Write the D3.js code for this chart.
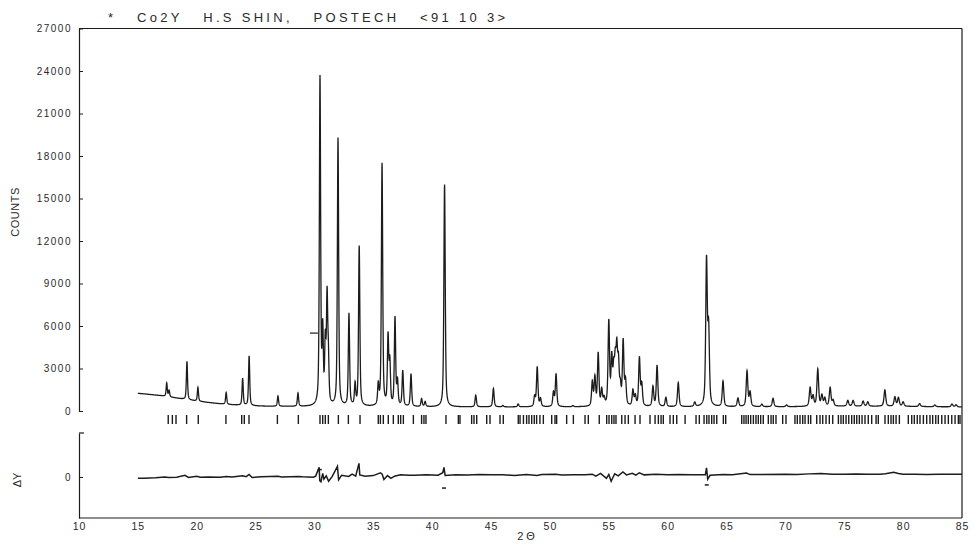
<!DOCTYPE html>
<html>
<head>
<meta charset="utf-8">
<script src="https://cdn.jsdelivr.net/npm/d3@7"></script>
<style>
  body{margin:0;background:#fff;}
  svg{display:block;}
  text{font-family:"Liberation Sans",Arial,sans-serif;fill:#2a2a2a;}
</style>
</head>
<body>
<div id="chart"></div>
<script>
const width=980, height=547;

// background of the observed pattern, [2theta, counts]
const bgPts=[[15,1250],[16,1170],[17,1080],[18,950],[19,820],[20,700],[21,600],[22,510],[23,440],[24,390],[25,360],[26,340],[28,320],[30,310],[40,290],[50,290],[60,290],[70,300],[75,340],[80,330],[85,280]];

// peaks, [2theta, counts above background]
const peaks=[
  [17.45,950],[17.65,450],[19.17,2700],[20.10,980],[22.50,830],[23.90,1900],[24.45,3500],
  [26.90,720],[28.60,930],[30.47,23100],[30.70,5000],[30.92,4200],[31.07,7300],[31.18,3000],
  [32.00,18900],[32.93,6500],[33.45,1500],[33.80,11300],[35.42,1400],[35.74,17100],
  [36.25,4800],[36.40,3000],[36.84,6200],[37.05,1700],[37.50,2500],[38.20,2300],
  [39.10,550],[39.40,350],[41.05,15700],[43.70,820],[45.20,1300],[46.00,100],[47.30,200],
  [48.70,700],[48.92,2800],[49.20,550],[50.30,1000],[50.52,2300],[51.95,80],
  [53.60,1700],[53.82,2000],[54.10,3700],[54.40,1100],[54.60,500],[55.00,5900],
  [55.25,3200],[55.42,2300],[55.55,2700],[55.68,3600],[55.82,2800],[55.98,1200],
  [56.22,4500],[56.42,1700],[57.05,1100],[57.25,700],[57.60,3400],[57.80,1500],
  [58.75,1400],[59.10,2900],[59.85,650],[60.90,1700],[62.30,300],[63.30,10200],
  [63.48,5200],[64.70,1800],[65.97,600],[66.74,2500],[67.00,1000],[68.00,180],
  [68.95,600],[70.10,120],[72.10,1300],[72.35,700],[72.75,2600],[73.10,750],[73.35,550],
  [73.80,1300],[74.05,400],[75.30,400],[75.75,400],[76.60,350],[77.00,300],[78.45,1150],
  [79.30,650],[79.60,600],[80.00,300],[81.40,200],[82.70,120],[84.15,200],[84.50,150]
];

// difference curve obs - calc, [2theta, counts]
const diffPts=[
  [15,-90],[15.5,-80],[16.5,-60],[17.3,0],[17.6,-40],[18.3,-10],[19.0,120],[19.3,-30],[20.0,50],
  [20.3,-20],[21,0],[22,-20],[22.5,40],[23,0],[23.9,80],[24.2,20],[24.45,180],[24.7,-30],
  [25.5,10],[26.9,50],[27.2,0],[28.6,40],[29,10],[29.9,-20],[30.1,60],[30.4,680],[30.45,-250],
  [30.55,-330],[30.7,250],[30.8,-150],[31.0,90],[31.2,-300],[31.5,20],[31.95,750],[32.05,-200],
  [32.3,120],[32.9,40],[33.2,200],[33.5,60],[33.78,960],[33.85,150],[34.3,60],[35.0,100],
  [35.6,300],[35.75,200],[35.9,-180],[36.2,100],[36.5,-100],[36.8,60],[37.3,150],[38,120],
  [38.5,120],[39.5,150],[40.5,130],[40.9,300],[41.0,680],[41.1,100],[42,150],[43,140],[44,170],
  [45,150],[46,160],[47,100],[48,180],[48.9,100],[49.3,170],[50.5,190],[51,140],[52,150],
  [53,150],[53.6,200],[53.9,60],[54.3,250],[54.8,-100],[55.0,180],[55.2,-300],[55.5,230],
  [55.8,80],[56.2,350],[56.5,150],[57,260],[57.3,130],[57.6,300],[58,150],[59,200],[60,150],
  [61,170],[62,150],[63.2,150],[63.3,650],[63.4,-150],[63.6,120],[64.7,180],[65.5,160],
  [66.7,280],[67,170],[68,180],[70,190],[71,170],[72,220],[73,240],[74,190],[75,200],[76,210],
  [77,190],[78,200],[78.5,230],[79.2,330],[79.6,250],[80,190],[81,200],[82,180],[83,200],
  [84,190],[85,190]
];
// stray single points
const strayObs=[[29.95,5500]];
const strayDiff=[[30.45,520],[41.0,-780],[63.32,-560]];

// reflection positions (2theta)
const reflections=[
  17.58,17.93,18.24,19.14,20.13,22.48,23.82,24.04,24.44,26.85,28.63,30.47,30.70,30.92,31.18,
  32.03,32.88,33.87,35.42,35.60,35.85,36.27,36.70,37.12,37.32,37.55,38.40,39.10,39.30,39.47,
  41.17,42.22,42.36,43.35,43.55,43.78,44.63,44.91,45.76,46.04,47.31,47.46,47.75,48.02,48.22,
  48.45,48.67,48.87,49.15,49.44,50.15,50.43,50.57,51.42,51.99,52.98,53.26,54.19,54.82,55.02,
  55.25,55.44,55.61,56.10,56.38,56.66,57.23,57.65,58.50,58.93,59.21,59.44,59.63,60.20,60.48,
  60.77,61.48,62.41,62.69,63.09,63.32,63.51,63.74,63.94,64.17,64.73,64.93,66.29,66.48,66.66,
  66.85,67.05,67.28,67.50,67.70,67.90,68.12,68.55,68.78,68.97,69.20,69.77,70.05,70.81,71.01,
  71.24,71.47,71.67,71.95,72.15,72.66,72.94,73.17,73.45,73.73,74.02,74.50,74.72,74.92,75.15,
  75.38,75.63,75.85,76.06,76.28,76.51,76.76,77.04,77.33,77.70,77.89,78.46,78.74,78.97,79.17,
  79.40,79.68,80.44,80.73,80.95,81.20,81.43,81.72,82.00,82.28,82.51,82.77,82.99,83.28,83.56,
  83.84,84.13,84.41,84.69,84.83
];

const xTicks=[10,15,20,25,30,35,40,45,50,55,60,65,70,75,80,85];
const yTicks=[0,3000,6000,9000,12000,15000,18000,21000,24000,27000];

const svg=d3.select("#chart").append("svg")
    .attr("width",width).attr("height",height);

//scales
const x=d3.scaleLinear().domain([10,85]).range([79,962]);
const y=d3.scaleLinear().domain([0,27000]).range([411,28.5]);
const yd=d3.scaleLinear().domain([-2890,3101]).range([518,433]);
const bg=d3.scaleLinear().domain(bgPts.map(d=>d[0])).range(bgPts.map(d=>d[1])).clamp(true);

//pseudo-voigt shape for each listed peak
function shape(dx,w){
  const r=dx*dx/(w*w);
  return 0.55/(1+4*r)+0.45*Math.exp(-4*Math.LN2*r);
}
function profile(t){
  let v=bg(t);
  const w=0.11+0.001*(t-15);
  peaks.forEach(p=>{
    const dx=t-p[0];
    if(Math.abs(dx)<4) v+=p[1]*shape(dx,w);
  });
  return v;
}
const grid=d3.range(15,85.0001,0.01);
const obs=grid.map(t=>[t,profile(t)]);

const ink="#1c1c1c";

//frame
svg.append("line").attr("x1",79).attr("x2",962).attr("y1",28.5).attr("y2",28.5)
   .attr("stroke",ink).attr("stroke-width",1.2);
svg.append("line").attr("x1",962).attr("x2",962).attr("y1",28.5).attr("y2",518)
   .attr("stroke",ink).attr("stroke-width",1.2);
svg.append("line").attr("x1",79).attr("x2",962).attr("y1",518).attr("y2",518)
   .attr("stroke",ink).attr("stroke-width",1.2);

//top y axis
const yAxis=svg.append("g").attr("transform","translate(79,0)")
   .call(d3.axisLeft(y).tickValues(yTicks).tickFormat(d3.format("d"))
     .tickSize(-4).tickSizeOuter(0).tickPadding(7));
yAxis.select(".domain").attr("stroke",ink).attr("stroke-width",1.2);
yAxis.selectAll(".tick line").attr("stroke",ink);
yAxis.selectAll("text").style("font-size","10px").style("letter-spacing","1.5px")
   .attr("fill","#2a2a2a");

//bottom panel y axis
const dAxis=svg.append("g").attr("transform","translate(79,0)")
   .call(d3.axisLeft(yd).tickValues([0]).tickSize(-4).tickSizeOuter(0).tickPadding(7));
dAxis.select(".domain").attr("stroke",ink).attr("stroke-width",1.2);
dAxis.selectAll(".tick line").attr("stroke",ink);
dAxis.selectAll("text").style("font-size","10px").style("letter-spacing","1.5px");
svg.append("line").attr("x1",79).attr("x2",84).attr("y1",433).attr("y2",433)
   .attr("stroke",ink).attr("stroke-width",1.2);

//x axis
const xAxis=svg.append("g").attr("transform","translate(0,518)")
   .call(d3.axisBottom(x).tickValues(xTicks).tickSize(0).tickPadding(5));
xAxis.select(".domain").remove();
xAxis.selectAll("text").style("font-size","10.5px").style("letter-spacing","1px");

//observed pattern
const line=d3.line().x(d=>x(d[0])).y(d=>y(d[1]));
svg.append("path").datum(obs).attr("d",line)
   .attr("fill","none").attr("stroke",ink).attr("stroke-width",1.3);
svg.selectAll(".stray").data(strayObs).enter().append("line")
   .attr("x1",d=>x(d[0])-4).attr("x2",d=>x(d[0])+4)
   .attr("y1",d=>y(d[1])).attr("y2",d=>y(d[1]))
   .attr("stroke",ink).attr("stroke-width",1.2);

//reflection markers
svg.append("g").selectAll("line").data(reflections).enter().append("line")
   .attr("x1",d=>x(d)).attr("x2",d=>x(d)).attr("y1",415).attr("y2",424)
   .attr("stroke",ink).attr("stroke-width",1.4);

//difference curve
const dline=d3.line().x(d=>x(d[0])).y(d=>yd(d[1]));
svg.append("path").datum(diffPts).attr("d",dline)
   .attr("fill","none").attr("stroke",ink).attr("stroke-width",1.5);
svg.append("g").selectAll("line").data(strayDiff).enter().append("line")
   .attr("x1",d=>x(d[0])-2).attr("x2",d=>x(d[0])+2)
   .attr("y1",d=>yd(d[1])).attr("y2",d=>yd(d[1]))
   .attr("stroke",ink).attr("stroke-width",1.5);

//labels
svg.append("text").attr("x",108).attr("y",22)
   .attr("textLength",397).attr("lengthAdjust","spacing")
   .style("font-size","13px").style("white-space","pre")
   .text("*   Co2Y   H.S SHIN,   POSTECH   <91 10 3>");
svg.append("text").attr("transform","translate(19,212) rotate(-90)")
   .attr("text-anchor","middle").style("font-size","11px").style("letter-spacing","0.5px")
   .text("COUNTS");
svg.append("text").attr("transform","translate(21,480) rotate(-90)")
   .attr("text-anchor","middle").style("font-size","11px")
   .text("ΔY");
svg.append("text").attr("x",526).attr("y",540)
   .attr("text-anchor","middle").style("font-size","11px").style("white-space","pre")
   .text("2 Θ");
</script>
</body>
</html>
